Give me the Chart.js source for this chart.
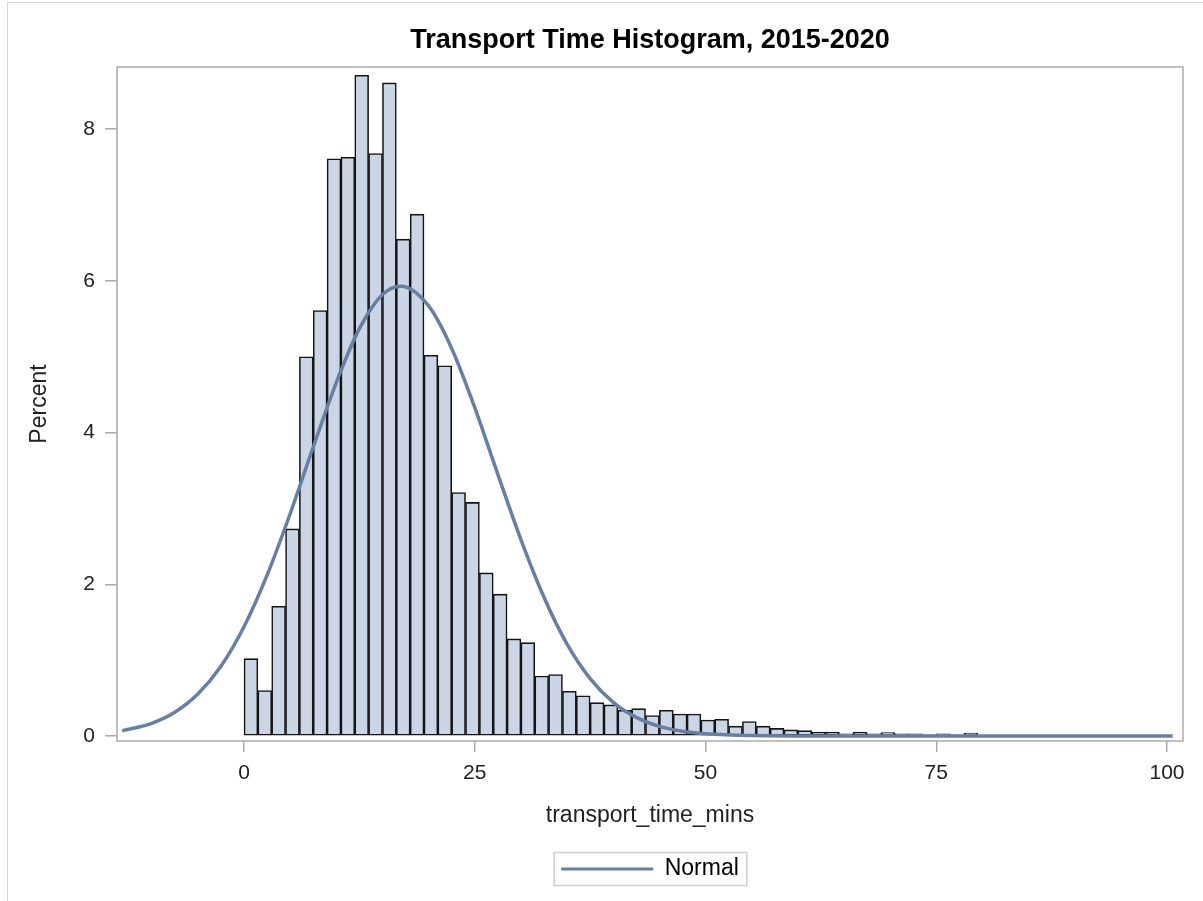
<!DOCTYPE html>
<html>
<head>
<meta charset="utf-8">
<title>Transport Time Histogram, 2015-2020</title>
<script src="https://cdn.jsdelivr.net/npm/chart.js@4.4.1/dist/chart.umd.min.js"></script>
<style>
  html, body { margin: 0; padding: 0; background: #fff; }
  #wrap { position: relative; width: 1203px; height: 901px; overflow: hidden; }
  #frame {
    position: absolute; left: 7px; top: 2px; width: 1400px; height: 1100px;
    border-left: 1.5px solid #d6d6d6; border-top: 1.5px solid #d6d6d6;
    pointer-events: none;
  }
</style>
</head>
<body>
<div id="wrap">
  <canvas id="histChart"></canvas>
  <div id="frame"></div>
</div>
<script>
// bin midpoints (bin width 1.5 minutes)
const binMids = [
  0.75, 2.25, 3.75, 5.25, 6.75, 8.25, 9.75, 11.25, 12.75, 14.25,
  15.75, 17.25, 18.75, 20.25, 21.75, 23.25, 24.75, 26.25, 27.75, 29.25,
  30.75, 32.25, 33.75, 35.25, 36.75, 38.25, 39.75, 41.25, 42.75, 44.25,
  45.75, 47.25, 48.75, 50.25, 51.75, 53.25, 54.75, 56.25, 57.75, 59.25,
  60.75, 62.25, 63.75, 65.25, 66.75, 68.25, 69.75, 71.25, 72.75, 74.25,
  75.75, 77.25, 78.75, 80.25
];
// percent of trips in each bin
const binPercent = [
  1.02, 0.60, 1.71, 2.73, 5.00, 5.61, 7.61, 7.63, 8.71, 7.68,
  8.61, 6.55, 6.88, 5.02, 4.88, 3.21, 3.08, 2.15, 1.87, 1.28,
  1.23, 0.79, 0.81, 0.59, 0.53, 0.44, 0.41, 0.34, 0.36, 0.27,
  0.34, 0.29, 0.29, 0.21, 0.22, 0.13, 0.19, 0.13, 0.10, 0.08,
  0.07, 0.05, 0.05, 0.03, 0.05, 0.03, 0.045, 0.03, 0.03, 0.015,
  0.03, 0.015, 0.04, 0.01
];
// fitted normal curve
const normalX = [-13.2, -10, -7.5, -5, -2.5, 0, 2.5, 5, 7.5, 10, 12.5, 15, 17, 20,
  22.5, 25, 27.5, 30, 32.5, 35, 37.5, 40, 42.5, 45, 47.5, 50, 55, 60, 70, 80, 90, 100.6];
const normalY = [0.068, 0.167, 0.313, 0.553, 0.919, 1.44, 2.12, 2.93, 3.81, 4.66, 5.37, 5.82, 5.93, 5.67,
  5.11, 4.33, 3.45, 2.59, 1.83, 1.21, 0.756, 0.444, 0.245, 0.127, 0.062, 0.029, 0.005, 0.001, 0, 0, 0, 0];

const xTicks = [0, 25, 50, 75, 100];
const yTicks = [0, 2, 4, 6, 8];

const axisGray = '#a9abae';
const curveColor = '#667fa2';

Chart.defaults.font.family = '"Liberation Sans", Arial, Helvetica, sans-serif';
Chart.defaults.color = '#222';

// wall border around the plot area, and the box round the legend
const framePlugin = {
  id: 'frames',
  afterDraw(chart) {
    const ctx = chart.ctx;
    const a = chart.chartArea;
    ctx.save();
    ctx.strokeStyle = axisGray;
    ctx.lineWidth = 1.5;
    ctx.strokeRect(a.left, a.top, a.right - a.left, a.bottom - a.top);
    const hb = chart.legend.legendHitBoxes[0];
    if (hb) {
      ctx.strokeStyle = '#cfcfcf';
      ctx.strokeRect(hb.left - 7, hb.top - 5, hb.width + 15, hb.height + 10);
    }
    ctx.restore();
  }
};

const barData = binMids.map((m, i) => ({ x: m, y: binPercent[i] }));
const curveData = normalX.map((v, i) => ({ x: v, y: normalY[i] }));

new Chart(document.getElementById('histChart'), {
  type: 'bar',
  data: {
    datasets: [{
      type: 'line',
      label: 'Normal',
      data: curveData,
      borderColor: curveColor,
      backgroundColor: curveColor,
      borderWidth: 3.5,
      pointRadius: 0,
      cubicInterpolationMode: 'monotone',
      fill: false,
      order: 0
    }, {
      type: 'bar',
      label: 'Percent',
      data: barData,
      backgroundColor: '#cad5e5',
      borderColor: '#141414',
      borderWidth: 1.6,
      borderSkipped: false,
      barPercentage: 1,
      categoryPercentage: 1,
      order: 1
    }]
  },
  options: {
    responsive: true,
    maintainAspectRatio: false,
    animation: false,
    layout: { padding: { left: 0, right: 20, top: 0, bottom: 10.5 } },
    plugins: {
      tooltip: { enabled: false },
      title: {
        display: true,
        text: 'Transport Time Histogram, 2015-2020',
        color: '#000',
        fullSize: false,
        font: { size: 27, weight: 'bold' },
        padding: { top: 24, bottom: 10.6 }
      },
      legend: {
        position: 'bottom',
        fullSize: false,
        labels: {
          font: { size: 23 },
          color: '#222',
          boxWidth: 92,
          boxHeight: 3,
          padding: 10,
          filter: item => item.text === 'Normal',
          generateLabels: chart => [{
            text: 'Normal',
            fillStyle: curveColor,
            strokeStyle: curveColor,
            lineWidth: 0,
            datasetIndex: 0
          }]
        }
      }
    },
    scales: {
      x: {
        type: 'linear',
        offset: false,
        min: -13.76,
        max: 101.73,
        afterBuildTicks: axis => { axis.ticks = xTicks.map(v => ({ value: v })); },
        afterFit: axis => { axis.height = 106.5; },
        grid: { offset: false, drawOnChartArea: false, drawTicks: true, tickLength: 11, tickColor: axisGray, lineWidth: 1.5 },
        border: { display: false },
        ticks: { font: { size: 21 }, padding: 9, maxRotation: 0, color: '#222' },
        title: {
          display: true,
          text: 'transport_time_mins',
          font: { size: 23 },
          color: '#222',
          padding: { top: 0, bottom: 17.7 }
        }
      },
      y: {
        min: -0.066,
        max: 8.82,
        afterBuildTicks: axis => { axis.ticks = yTicks.map(v => ({ value: v })); },
        afterFit: axis => { axis.width = 117; },
        grid: { drawOnChartArea: false, drawTicks: true, tickLength: 12, tickColor: axisGray, lineWidth: 1.5 },
        border: { display: false },
        ticks: { font: { size: 21 }, padding: 10, color: '#222' },
        title: {
          display: true,
          text: 'Percent',
          font: { size: 23 },
          color: '#222',
          padding: { top: 26, bottom: 0 }
        }
      }
    }
  },
  plugins: [framePlugin]
});
</script>
</body>
</html>
